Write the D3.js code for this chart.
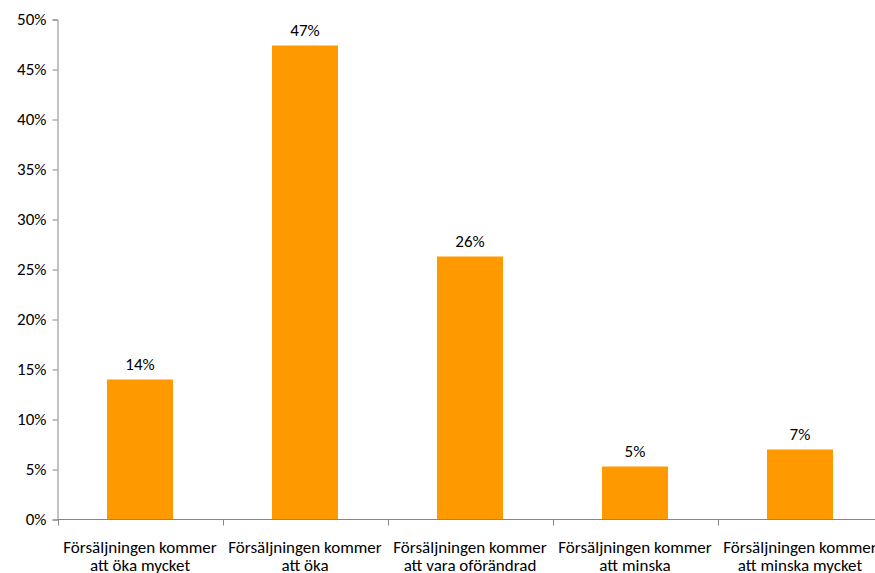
<!DOCTYPE html>
<html>
<head>
<meta charset="utf-8">
<script src="https://cdn.jsdelivr.net/npm/d3@7"></script>
<style>
  html, body { margin: 0; padding: 0; background: #fff; }
  svg { display: block; }
  text { font-family: Carlito, Calibri, Lato, sans-serif; fill: #000; }
</style>
</head>
<body>
<svg id="chart" width="875" height="573"></svg>
<script>
// Survey answers: expected sales development
const categories = [
  ["Försäljningen kommer", "att öka mycket"],
  ["Försäljningen kommer", "att öka"],
  ["Försäljningen kommer", "att vara oförändrad"],
  ["Försäljningen kommer", "att minska"],
  ["Försäljningen kommer", "att minska mycket"]
];
const shares = [0.140, 0.474, 0.263, 0.053, 0.070];
const yTicks = [0, 0.05, 0.10, 0.15, 0.20, 0.25, 0.30, 0.35, 0.40, 0.45, 0.50];

const svg = d3.select("#chart");
const plotLeft = 57.5, plotRight = 882.5, plotTop = 19.5, plotBottom = 519.5;
const fontSize = 17;

const x = d3.scaleBand()
  .domain(d3.range(categories.length))
  .range([plotLeft, plotRight])
  .paddingInner(0.6)
  .paddingOuter(0.3);

const y = d3.scaleLinear().domain([0, 0.5]).range([plotBottom, plotTop]);
const pct = d3.format(".0%");

// bars
svg.append("g").selectAll("rect")
  .data(shares)
  .join("rect")
  .attr("x", (d, i) => x(i))
  .attr("y", d => y(d))
  .attr("width", x.bandwidth())
  .attr("height", d => y(0) - y(d))
  .attr("fill", "#FF9900");

// value labels
svg.append("g").selectAll("text")
  .data(shares)
  .join("text")
  .attr("x", (d, i) => x(i) + x.bandwidth() / 2)
  .attr("y", d => y(d) - 10)
  .attr("text-anchor", "middle")
  .style("font-size", fontSize + "px")
  .text(d => pct(d));

// y axis
const yAxis = svg.append("g")
  .attr("transform", `translate(${plotLeft},0)`)
  .call(d3.axisLeft(y).tickValues(yTicks).tickFormat(pct).tickSize(5).tickPadding(6));
yAxis.selectAll("path, line").attr("stroke", "#868686");
yAxis.selectAll("text").style("font-size", fontSize + "px").attr("fill", "#000");

// category axis with boundary ticks between groups
const step = x.step();
const boundaries = d3.range(categories.length + 1).map(i => plotLeft + i * step);
const xAxis = svg.append("g");
xAxis.append("line")
  .attr("x1", plotLeft).attr("x2", plotRight)
  .attr("y1", plotBottom).attr("y2", plotBottom)
  .attr("stroke", "#868686");
xAxis.selectAll(".tick")
  .data(boundaries)
  .join("line")
  .attr("class", "tick")
  .attr("x1", d => Math.round(d) + 0.5).attr("x2", d => Math.round(d) + 0.5)
  .attr("y1", plotBottom).attr("y2", plotBottom + 6)
  .attr("stroke", "#868686");

const labels = xAxis.selectAll("text")
  .data(categories)
  .join("text")
  .attr("x", (d, i) => x(i) + x.bandwidth() / 2)
  .attr("y", 553)
  .attr("text-anchor", "middle")
  .style("font-size", fontSize + "px");
labels.selectAll("tspan")
  .data(d => d)
  .join("tspan")
  .attr("x", function () { return this.parentNode.getAttribute("x"); })
  .attr("dy", (d, i) => i === 0 ? 0 : 17.5)
  .text(d => d);
</script>
</body>
</html>
